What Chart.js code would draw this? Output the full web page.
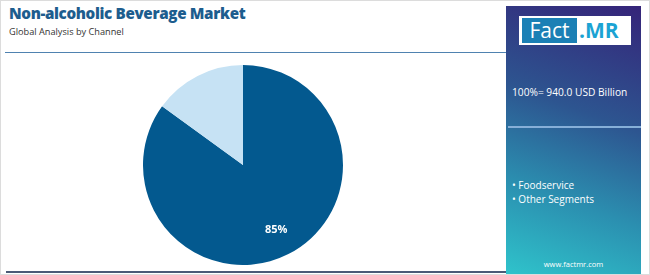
<!DOCTYPE html>
<html>
<head>
<meta charset="utf-8">
<script src="https://cdn.jsdelivr.net/npm/chart.js@4/dist/chart.umd.min.js"></script>
<style>
  body { margin: 0; background: #fff; font-family: "Open Sans", sans-serif; }
  #frame { position: relative; width: 648px; height: 273px; border: 1px solid #dcdcdc; overflow: hidden; }
  #title { position: absolute; left: 8px; top: 2px; font-size: 15.2px; font-weight: 800; color: #1d5d8e; letter-spacing: -0.35px; }
  #subtitle { position: absolute; left: 8px; top: 24px; font-size: 9.2px; color: #333; }
  #rule { position: absolute; left: 4px; top: 51px; width: 503px; height: 1px; background: #4f82b0; }
  #bottom { position: absolute; left: 5px; top: 270px; width: 502px; height: 2px; background: #4b5a77; }
  #pie { position: absolute; left: 142px; top: 64px; }
  #panel { position: absolute; left: 505px; top: 5px; width: 135px; height: 268px;
           background: linear-gradient(200deg, #352479 0%, #2d5590 40%, #2b8fb0 70%, #2fc3cb 100%); color: #fff; }
  #logo { position: absolute; left: 13px; top: 10px; width: 112px; height: 29px; background: #fff; }
  #logo .fact { position: absolute; left: 3px; top: 2px; width: 55px; height: 25px; background: #1b80b5;
                color: #fff; font-size: 21px; line-height: 25px; text-align: center; }
  #logo .mr { position: absolute; left: 60px; top: 2px; font-size: 21px; line-height: 25px; font-weight: 700; color: #1ba3d3; }
  #total { position: absolute; left: 6px; top: 79px; font-size: 10.2px; }
  #prule { position: absolute; left: 2px; top: 120px; width: 133px; height: 2px; background: #86afd8; }
  #legend { position: absolute; left: 6px; top: 172px; font-size: 10px; line-height: 14px; }
  #url { position: absolute; left: 0; width: 135px; top: 253px; text-align: center; font-size: 7.5px; }
</style>
</head>
<body>
<div id="frame">
  <div id="title">Non-alcoholic Beverage Market</div>
  <div id="subtitle">Global Analysis by Channel</div>
  <div id="rule"></div>
  <div id="bottom"></div>
  <canvas id="pie" width="200" height="200"></canvas>
  <div id="panel">
    <div id="logo"><div class="fact">Fact</div><div class="mr">.MR</div></div>
    <div id="total">100%= 940.0 USD Billion</div>
    <div id="prule"></div>
    <div id="legend"></div>
    <div id="url">www.factmr.com</div>
  </div>
</div>
<script>
const categories = ['Foodservice', 'Other Segments'];
const shares = [85, 15];
const colors = ['#03598f', '#c6e2f4'];

// legend list in the side panel
document.getElementById('legend').innerHTML = categories.map(c => '• ' + c).join('<br>');

// white percentage text inside big enough slices
const sliceLabels = {
    id: 'sliceLabels',
    afterDatasetsDraw(chart) {
        const ctx = chart.ctx;
        const meta = chart.getDatasetMeta(0);
        ctx.save();
        ctx.font = 'bold 11px "Open Sans", sans-serif';
        ctx.fillStyle = '#fff';
        ctx.textAlign = 'center';
        ctx.textBaseline = 'middle';
        meta.data.forEach((arc, i) => {
            if (shares[i] < 20) return;
            const mid = (arc.startAngle + arc.endAngle) / 2;
            const r = arc.outerRadius * 0.73;
            ctx.fillText(shares[i] + '%', arc.x + Math.cos(mid) * r, arc.y + Math.sin(mid) * r);
        });
        ctx.restore();
    }
};

new Chart(document.getElementById('pie').getContext('2d'), {
    type: 'pie',
    data: {
        labels: categories,
        datasets: [{ data: shares, backgroundColor: colors, borderWidth: 0 }]
    },
    options: {
        responsive: false,
        animation: false,
        layout: { padding: 0 },
        plugins: { legend: { display: false }, tooltip: { enabled: false } }
    },
    plugins: [sliceLabels]
});
</script>
</body>
</html>
